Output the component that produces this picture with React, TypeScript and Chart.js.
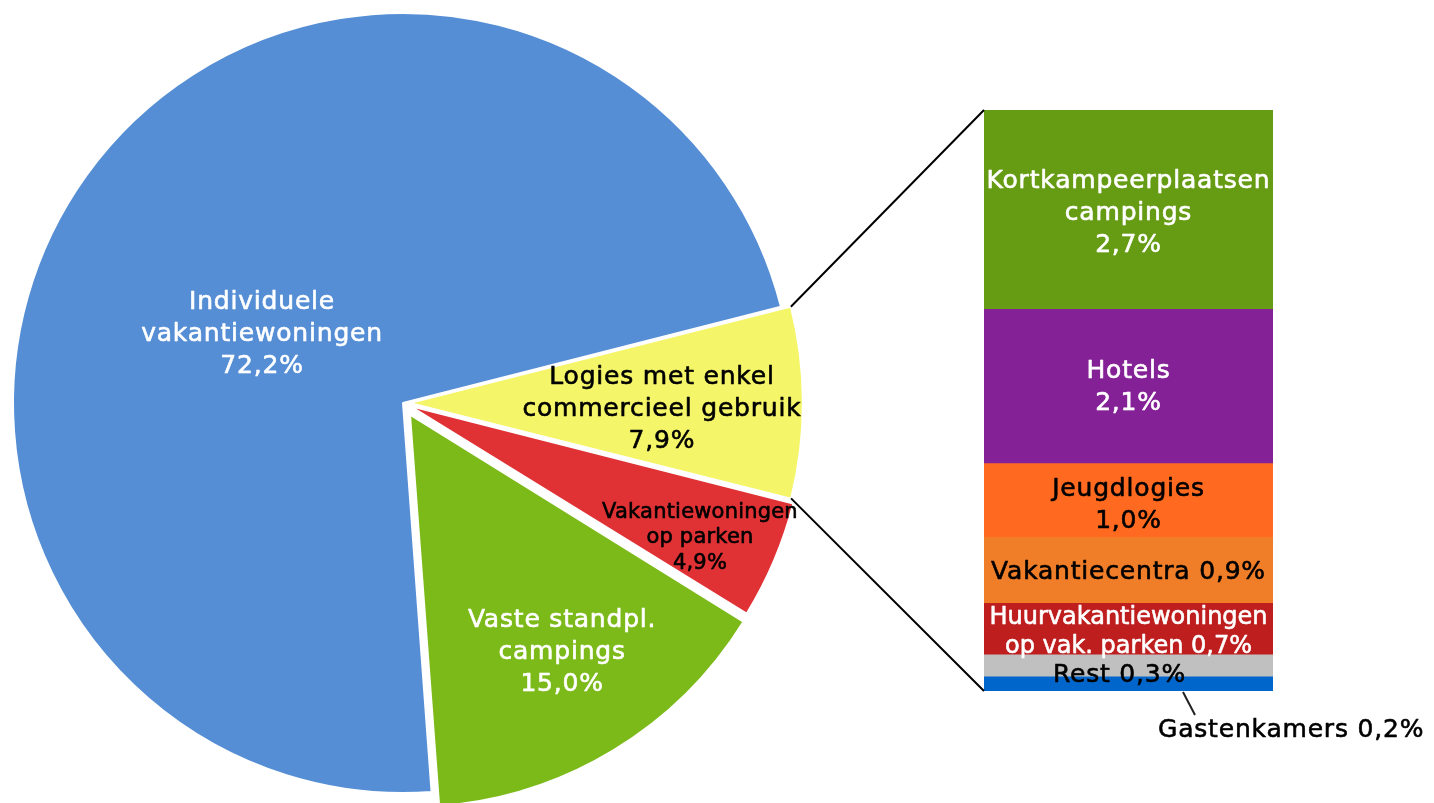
import React, { useEffect, useRef } from "react";
import { Chart, registerables } from "chart.js";

Chart.register(...registerables);

// ---------- DATA ----------
// Pie (clockwise order, starting with the large slice)
const pieCategories = [
  "Individuele vakantiewoningen",
  "Logies met enkel commercieel gebruik",
  "Vakantiewoningen op parken",
  "Vaste standpl. campings",
];
const pieValues = [72.2, 7.9, 4.9, 15.0];
const pieLabelText = [
  ["Individuele", "vakantiewoningen"],
  ["Logies met enkel", "commercieel gebruik"],
  ["Vakantiewoningen", "op parken"],
  ["Vaste standpl.", "campings"],
];

// Bar (breakdown of "Logies met enkel commercieel gebruik", top to bottom)
const barCategories = [
  "Kortkampeerplaatsen campings",
  "Hotels",
  "Jeugdlogies",
  "Vakantiecentra",
  "Huurvakantiewoningen op vak. parken",
  "Rest",
  "Gastenkamers",
];
const barValues = [2.7, 2.1, 1.0, 0.9, 0.7, 0.3, 0.2];
const barLabelText = [
  ["Kortkampeerplaatsen", "campings", "{v}"],
  ["Hotels", "{v}"],
  ["Jeugdlogies", "{v}"],
  ["Vakantiecentra {v}"],
  ["Huurvakantiewoningen", "op vak. parken {v}"],
  ["Rest {v}"],
  ["Gastenkamers {v}"],
];

// ---------- STYLE / LAYOUT ----------
const pieColors = ["#558ED5", "#F5F56A", "#E03235", "#7CBA1A"];
const pieOffsets = [0, 26, 31, 54];
const pieTextColors = ["#FFFFFF", "#000000", "#000000", "#FFFFFF"];
const pieLabelPos = [
  { fx: -0.3615, fy: -0.182, size: 25, lh: 32, ls: 0.8 },
  { fx: 0.664, fy: 0.0103, size: 25, lh: 32, ls: 0.8 },
  { fx: 0.7615, fy: 0.341, size: 21, lh: 25.5, ls: 0.2 },
  { fx: 0.408, fy: 0.633, size: 25, lh: 32, ls: 0.8 },
];
const barColors = ["#669B14", "#852197", "#FF6A20", "#F07D28", "#BE1E1E", "#C0C0C0", "#0066CC"];
const barTextColors = ["#FFFFFF", "#FFFFFF", "#000000", "#000000", "#FFFFFF", "#000000", "#000000"];
const barLabelPos = [
  { dx: 0, dy: 2, lh: 32, size: 25, ls: 0.8 },
  { dx: 0, dy: -1, lh: 32, size: 25, ls: 0.8 },
  { dx: 0, dy: 3, lh: 32, size: 25, ls: 0.8 },
  { dx: 0, dy: 1, lh: 32, size: 25, ls: 0.8 },
  { dx: 0, dy: 2, lh: 29, size: 24, ls: 0 },
  { dx: -9, dy: 8, lh: 32, size: 25, ls: 0.8 },
];

const W = 1434;
const H = 803;
const FONT = '"DejaVu Sans", Verdana, sans-serif';

const fmt = (v: number) => v.toFixed(1).replace(".", ",") + "%";

function drawLines(
  ctx: CanvasRenderingContext2D,
  lines: string[],
  x: number,
  cy: number,
  size: number,
  lh: number,
  ls: number,
  color: string,
  align: CanvasTextAlign = "center"
) {
  ctx.save();
  ctx.font = `${size}px ${FONT}`;
  (ctx as any).letterSpacing = `${ls}px`;
  ctx.fillStyle = color;
  ctx.strokeStyle = color;
  ctx.lineWidth = 0.6;
  ctx.lineJoin = "round";
  ctx.textAlign = align;
  ctx.textBaseline = "alphabetic";
  const n = lines.length;
  lines.forEach((t, i) => {
    const y = cy + (i - (n - 1) / 2) * lh + 0.35 * size;
    ctx.fillText(t, x, y);
    ctx.strokeText(t, x, y);
  });
  ctx.restore();
}

// Same translation Chart.js applies to an arc with an "offset" option
function arcShift(arc: any) {
  const off = (arc.options.offset || 0) / 4;
  const circ = arc.endAngle - arc.startAngle;
  const fix = 1 - Math.sin(Math.min(Math.PI, circ || 0));
  return off + off * fix;
}

export default function App() {
  const pieRef = useRef<HTMLCanvasElement | null>(null);
  const barRef = useRef<HTMLCanvasElement | null>(null);

  useEffect(() => {
    if (!pieRef.current || !barRef.current) return;

    const pieLabelPlugin = {
      id: "pieLabels",
      afterDatasetsDraw(chart: any) {
        const ctx = chart.ctx as CanvasRenderingContext2D;
        const meta = chart.getDatasetMeta(0);
        const a0 = meta.data[0] as any;
        const cx = a0.x;
        const cy = a0.y;
        const r = a0.outerRadius;
        pieLabelPos.forEach((p, i) => {
          const lines = [...pieLabelText[i], fmt(pieValues[i])];
          drawLines(ctx, lines, cx + p.fx * r, cy + p.fy * r, p.size, p.lh, p.ls, pieTextColors[i]);
        });
      },
    };

    const pie = new Chart(pieRef.current, {
      type: "pie",
      data: {
        labels: pieCategories,
        datasets: [
          {
            data: pieValues,
            backgroundColor: pieColors,
            borderColor: "#FFFFFF",
            borderWidth: 2,
            offset: pieOffsets,
            clip: false as any,
          } as any,
        ],
      },
      options: {
        animation: false,
        responsive: false,
        rotation: 175.8,
        radius: 390,
        layout: { padding: { left: 3, right: W - 803, top: 3, bottom: 0 } },
        plugins: { legend: { display: false }, tooltip: { enabled: false } },
        events: [],
      } as any,
      plugins: [pieLabelPlugin],
    });

    const total = barValues.reduce((s, v) => s + v, 0);

    const barPlugin = {
      id: "barLabels",
      afterDatasetsDraw(chart: any) {
        const ctx = chart.ctx as CanvasRenderingContext2D;
        const els = barCategories.map((_, i) => chart.getDatasetMeta(i).data[0] as any);
        els.forEach((el, i) => {
          if (i >= barLabelPos.length) return;
          const p = barLabelPos[i];
          const lines = barLabelText[i].map((t) => t.replace("{v}", fmt(barValues[i])));
          const mid = (el.y + el.base) / 2;
          drawLines(ctx, lines, el.x + p.dx, mid + p.dy, p.size, p.lh, p.ls, barTextColors[i]);
        });

        // Gastenkamers label with leader line
        const li = els.length - 1;
        const last = els[li];
        const bottom = Math.max(last.y, last.base);
        ctx.save();
        ctx.strokeStyle = "#222222";
        ctx.lineWidth = 2;
        ctx.beginPath();
        ctx.moveTo(last.x + 54.5, bottom + 1);
        ctx.lineTo(last.x + 66.5, bottom + 24);
        ctx.stroke();
        ctx.restore();
        const gl = barLabelText[li].map((t) => t.replace("{v}", fmt(barValues[li])));
        drawLines(ctx, gl, last.x + 29.5, bottom + 46 - 0.35 * 25, 25, 32, 0.8, barTextColors[li], "left");

        // Connector lines from the exploded pie slice to the bar
        const pm = pie.getDatasetMeta(0);
        const arc = pm.data[1] as any;
        const shift = arcShift(arc);
        const midA = (arc.startAngle + arc.endAngle) / 2;
        const ox = arc.x + Math.cos(midA) * shift;
        const oy = arc.y + Math.sin(midA) * shift;
        const R = arc.outerRadius;
        const first = els[0];
        const left = first.x - first.width / 2;
        const top = Math.min(first.y, first.base);
        ctx.save();
        ctx.strokeStyle = "#000000";
        ctx.lineWidth = 2;
        ctx.beginPath();
        ctx.moveTo(ox + Math.cos(arc.startAngle) * R, oy + Math.sin(arc.startAngle) * R);
        ctx.lineTo(left, top);
        ctx.moveTo(ox + Math.cos(arc.endAngle) * R, oy + Math.sin(arc.endAngle) * R);
        ctx.lineTo(left, bottom);
        ctx.stroke();
        ctx.restore();
      },
    };

    const bar = new Chart(barRef.current, {
      type: "bar",
      data: {
        labels: ["Logies met enkel commercieel gebruik"],
        datasets: barCategories.map((c, i) => ({
          label: c,
          data: [barValues[i]],
          backgroundColor: barColors[i],
          borderWidth: 0,
          barPercentage: 1,
          categoryPercentage: 1,
        })),
      },
      options: {
        animation: false,
        responsive: false,
        layout: { padding: { left: 984, right: W - 1273, top: 110, bottom: H - 691 } },
        scales: {
          x: { display: false, stacked: true },
          y: { display: false, stacked: true, reverse: true, min: 0, max: total },
        },
        plugins: { legend: { display: false }, tooltip: { enabled: false } },
        events: [],
      } as any,
      plugins: [barPlugin],
    });

    return () => {
      bar.destroy();
      pie.destroy();
    };
  }, []);

  return (
    <div style={{ position: "absolute", left: 0, top: 0, width: W, height: H, overflow: "hidden", background: "#FFFFFF" }}>
      <canvas ref={pieRef} width={W} height={H} style={{ position: "absolute", left: 0, top: 0 }} />
      <canvas ref={barRef} width={W} height={H} style={{ position: "absolute", left: 0, top: 0 }} />
    </div>
  );
}
